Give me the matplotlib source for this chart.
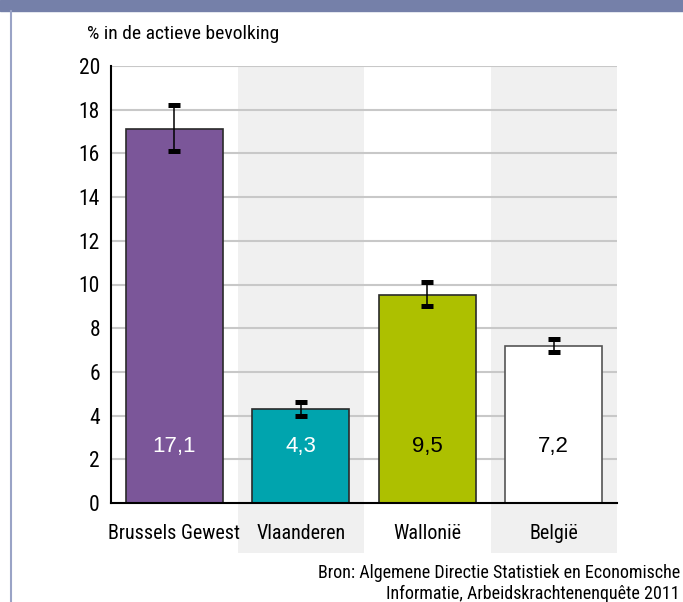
import numpy as np
import matplotlib
matplotlib.use("Agg")
import matplotlib.pyplot as plt
from matplotlib.patches import Rectangle
from matplotlib import font_manager

# pick a narrow family if one is installed
installed = sorted(set(f.name for f in font_manager.fontManager.ttflist))
cands = ['Liberation Sans Narrow', 'Roboto Condensed', 'Open Sans Condensed',
         'Noto Sans Condensed', 'DejaVu Sans Condensed']
narrow_name = next((c for c in cands if c in installed), 'DejaVu Sans')
narrow = [narrow_name, 'DejaVu Sans']
plain = ['Liberation Sans', 'DejaVu Sans']

regions = ['Brussels Gewest', 'Vlaanderen', 'Wallonië', 'België']
values = [17.1, 4.3, 9.5, 7.2]
err_low = [16.1, 4.0, 9.0, 6.9]
err_high = [18.2, 4.6, 10.1, 7.5]
labels = ['17,1', '4,3', '9,5', '7,2']
colors = ['#7b5699', '#00a4ae', '#adc000', '#ffffff']
edges = ['#2a2a2a', '#2a2a2a', '#2a2a2a', '#555555']
text_colors = ['white', 'white', 'black', 'black']
yticks = [0, 2, 4, 6, 8, 10, 12, 14, 16, 18, 20]

fig = plt.figure(figsize=(6.83, 6.02), dpi=100)

# header band and left frame line
fig.patches.append(Rectangle((0, 1 - 11/602), 1, 11/602, transform=fig.transFigure,
                             color='#7580a9', zorder=0))
fig.add_artist(plt.Line2D([10.5/683, 10.5/683], [0, 1 - 11/602], transform=fig.transFigure,
                          color='#9aa3c6', lw=1.5))

ax = fig.add_axes([111/683, 99/602, 506/683, 437/602])
x = np.arange(len(regions))

# alternating shaded bands
for i in [1, 3]:
    ax.axvspan(i - 0.5, i + 0.5, ymin=-50/437, ymax=1, color='#f0f0f0',
               zorder=0, clip_on=False, lw=0)

for t in yticks[1:]:
    ax.axhline(t, color='#c8c8c8', lw=1.5, zorder=1)

ax.bar(x, values, width=0.765, color=colors, edgecolor=edges, linewidth=1.2, zorder=2)

yerr = [np.array(values) - np.array(err_low), np.array(err_high) - np.array(values)]
ax.errorbar(x, values, yerr=yerr, fmt='none', ecolor='black', elinewidth=1.1,
            capsize=4, capthick=3.6, zorder=3)

for xi, lab, c in zip(x, labels, text_colors):
    ax.text(xi, 2.6, lab, ha='center', va='center', color=c, fontsize=16,
            family=plain, zorder=4)

ax.set_xlim(-0.5, 3.5)
ax.set_ylim(0, 20)
ax.set_yticks(yticks)
ax.set_xticks(x)
ax.set_xticklabels(regions, family=narrow, fontsize=14.5)
ax.set_yticklabels([str(t) for t in yticks], family=narrow, fontsize=15.5)
ax.tick_params(axis='both', length=0)
ax.tick_params(axis='y', pad=8)
ax.tick_params(axis='x', pad=15)

for s in ['top', 'right']:
    ax.spines[s].set_visible(False)
ax.spines['left'].set_linewidth(1.5)
ax.spines['bottom'].set_linewidth(1.5)
ax.spines['left'].set_zorder(5)
ax.spines['bottom'].set_zorder(5)
ax.set_facecolor('none')

fig.text(87/683, 1 - 34/602, '% in de actieve bevolking', family=narrow, fontsize=14,
         va='center', ha='left')
fig.text(680/683, 1 - 573/602, 'Bron: Algemene Directie Statistiek en Economische',
         family=narrow, fontsize=13, ha='right', va='center')
fig.text(680/683, 1 - 594/602, 'Informatie, Arbeidskrachtenenquête 2011',
         family=narrow, fontsize=13, ha='right', va='center')

fig.savefig('out.png', dpi=100)
